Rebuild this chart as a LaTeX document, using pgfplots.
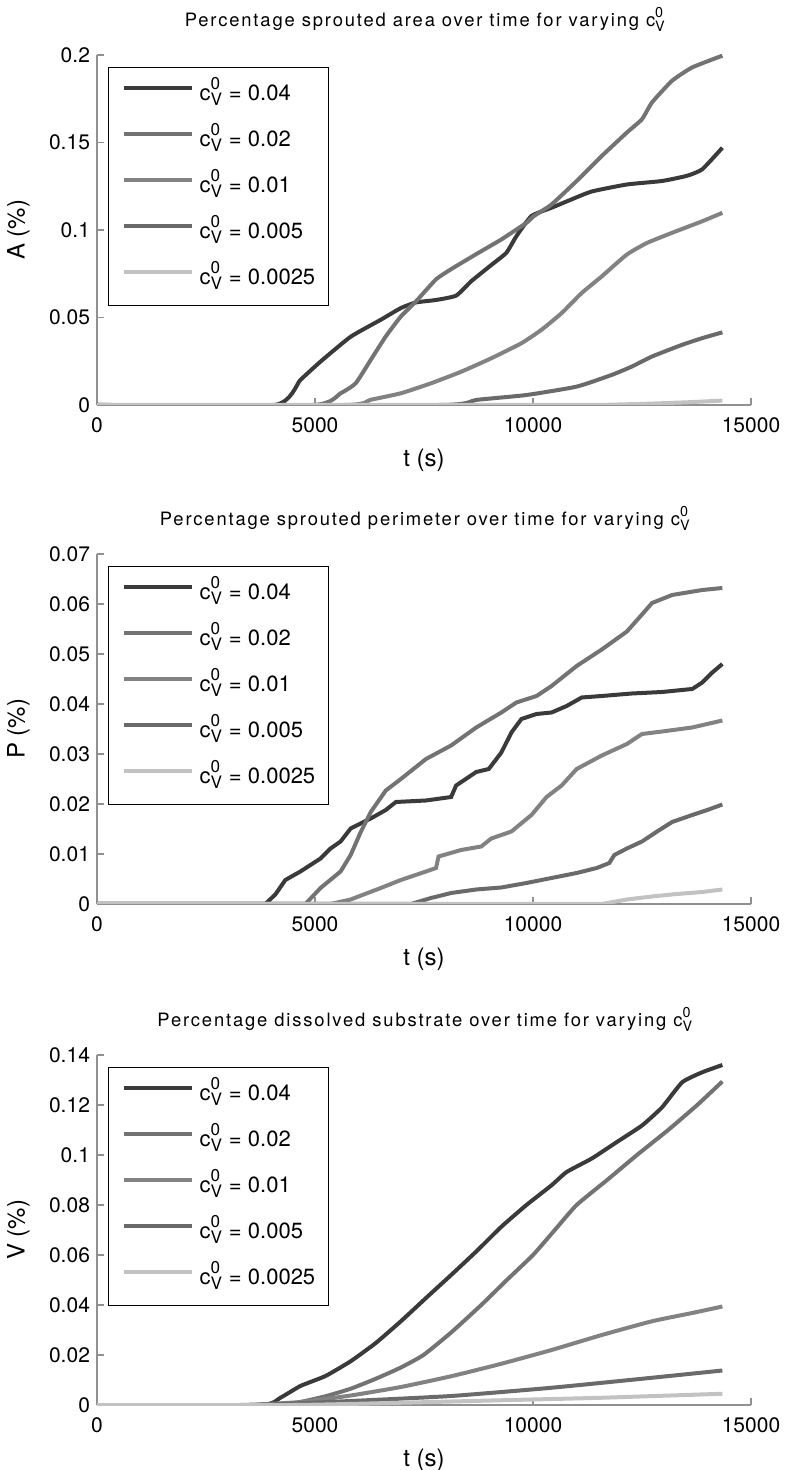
\documentclass[border=0pt]{standalone}
\usepackage{pgfplots}
\pgfplotsset{compat=1.18}
\usepackage{fontspec}
\setmainfont{TeX Gyre Heros}
\definecolor{cA}{HTML}{3A3A3A}
\definecolor{cB}{HTML}{737373}
\definecolor{cC}{HTML}{828282}
\definecolor{cD}{HTML}{6A6A6A}
\definecolor{cE}{HTML}{C2C2C2}
\definecolor{axc}{HTML}{909090}
\newcommand{\cv}{c\rlap{\raisebox{-0.45ex}{\scalebox{0.78}{V}}}\raisebox{0.95ex}{\scalebox{0.78}{0}}\hspace{0.12em}}
\newcommand{\ttl}[1]{{\addfontfeature{LetterSpace=10}#1}}
\pgfplotsset{
  myax/.style={
    width=327pt, height=175pt, scale only axis,
    xmin=0, xmax=15000, xtick={0,5000,10000,15000},
    ymin=0,
    axis x line*=bottom, axis y line*=left,
    x axis line style={-}, y axis line style={-},
    axis line style={color=axc, line width=0.7pt},
    tick style={color=axc, line width=0.7pt},
    tick align=inside, major tick length=3.5pt,
    scaled x ticks=false, scaled y ticks=false,
    /pgf/number format/assume math mode=true,
    ticklabel style={font=\fontsize{10.5}{12}\selectfont, text=black},
    xticklabel style={/pgf/number format/set thousands separator={}, yshift=-3pt},
    yticklabel style={/pgf/number format/fixed, /pgf/number format/precision=3},
    label style={font=\fontsize{12}{14}\selectfont},
    xlabel={t (s)},
    xlabel style={at={(axis description cs:0.5,-0.157)}, anchor=center},
    ylabel style={at={(axis description cs:-0.12,0.5)}, anchor=center},
    title style={at={(axis description cs:0.5,1.08)}, anchor=base, yshift=0pt, font=\fontsize{9.2}{11}\selectfont},
    every axis title shift=0pt,
    legend style={at={(0.0168,0.966)}, anchor=north west, draw=black, line width=0.7pt,
      font=\fontsize{11}{13}\selectfont, inner xsep=6.5pt, inner ysep=6.5pt, row sep=9pt,
      nodes={inner sep=0pt, text height=10pt, text depth=4pt},
      /tikz/every odd column/.append style={column sep=3pt}},
    legend cell align=left,
    legend image code/.code={\draw[#1] (0pt,3.5pt) -- (34pt,3.5pt);},
    every axis plot/.append style={line width=2pt},
  }
}
\begin{document}
\begin{tikzpicture}
\path[use as bounding box] (0,0) rectangle (393pt,735pt);
% ---------- Plot 1 ----------
\begin{axis}[myax, at={(48.5pt,532.5pt)}, anchor=south west,
  ymax=0.2, ytick={0,0.05,0.1,0.15,0.2},
  ylabel={A (\%)},
  title={\ttl{Percentage sprouted area over time for varying \cv}}]
\addplot[cA, smooth, tension=0.3] coordinates {(0,0)(4070,0)(4665,0.0143)(5127,0.0248)(5818,0.039)(6509,0.0487)(6970,0.0554)(7316,0.0586)(7776,0.060)(8238,0.0625)(8583,0.0707)(9044,0.080)(9390,0.087)(9620,0.0965)(9965,0.108)(10426,0.1127)(10887,0.1175)(11348,0.122)(12154,0.126)(12961,0.128)(13537,0.131)(13883,0.1347)(14343,0.147)};
\addplot[cB, smooth, tension=0.3] coordinates {(0,0)(4954,0)(5587,0.0067)(5933,0.0124)(6279,0.0258)(6624,0.0392)(6970,0.0506)(7316,0.0592)(7776,0.0718)(8122,0.0776)(8698,0.0862)(9274,0.0946)(9850,0.1041)(10023,0.108)(10426,0.1146)(11002,0.128)(11578,0.1423)(12154,0.1557)(12500,0.1633)(12730,0.1729)(13191,0.1853)(13652,0.1929)(14343,0.1996)};
\addplot[cC, smooth, tension=0.3] coordinates {(0,0)(5700,0)(6280,0.003)(6970,0.0067)(7661,0.0124)(8352,0.019)(9044,0.0267)(9735,0.0353)(10196,0.043)(10657,0.0525)(11118,0.064)(11578,0.0735)(12154,0.086)(12615,0.0926)(13191,0.0984)(13883,0.105)(14343,0.1098)};
\addplot[cD, smooth, tension=0.3] coordinates {(0,0)(7892,0)(8698,0.0029)(9850,0.0057)(11002,0.0105)(11808,0.0172)(12270,0.022)(12730,0.0277)(13422,0.0344)(13883,0.0382)(14343,0.0415)};
\addplot[cE] coordinates {(0,0)(11500,0)(12500,0.0006)(13500,0.0015)(14343,0.0025)};
\legend{\cv\ = 0.04, \cv\ = 0.02, \cv\ = 0.01, \cv\ = 0.005, \cv\ = 0.0025}
\end{axis}
% ---------- Plot 2 ----------
\begin{axis}[myax, at={(48.5pt,283pt)}, anchor=south west,
  ymax=0.07, ytick={0,0.01,0.02,0.03,0.04,0.05,0.06,0.07},
  ylabel={P (\%)},
  title={\ttl{Percentage sprouted perimeter over time for varying \cv}}]
\addplot[cA] coordinates {(0,0)(3860,0)(4090,0.0019)(4320,0.0048)(4665,0.0065)(5127,0.0091)(5357,0.0111)(5587,0.0125)(5818,0.0151)(6279,0.0171)(6624,0.0188)(6855,0.0204)(7546,0.0207)(8122,0.0214)(8237,0.0237)(8698,0.0264)(8986,0.027)(9274,0.0303)(9505,0.0343)(9735,0.037)(10081,0.038)(10426,0.0383)(10772,0.0396)(11118,0.0413)(11578,0.0416)(12270,0.0421)(12961,0.0424)(13652,0.043)(13883,0.0443)(14113,0.0463)(14343,0.048)};
\addplot[cB] coordinates {(0,0)(4780,0)(5127,0.0032)(5587,0.0065)(5818,0.0098)(6049,0.0144)(6279,0.0184)(6624,0.0227)(6970,0.025)(7546,0.029)(8122,0.0317)(8698,0.0353)(9274,0.0383)(9620,0.0403)(10081,0.0416)(10426,0.0436)(11002,0.0476)(11578,0.0509)(12154,0.0545)(12500,0.0579)(12730,0.0602)(13191,0.0618)(13883,0.0628)(14343,0.0632)};
\addplot[cC] coordinates {(0,0)(5357,0)(5818,0.0009)(6509,0.0032)(6970,0.0048)(7546,0.0065)(7776,0.0072)(7834,0.0095)(8352,0.0108)(8813,0.0115)(9044,0.0131)(9505,0.0145)(9965,0.0178)(10311,0.0214)(10657,0.0237)(11002,0.027)(11578,0.0297)(12154,0.032)(12500,0.034)(12961,0.0345)(13652,0.0353)(14343,0.0367)};
\addplot[cD] coordinates {(0,0)(7200,0)(7661,0.0012)(8122,0.0022)(8698,0.0029)(9274,0.0033)(9850,0.0042)(10426,0.0052)(11002,0.0062)(11463,0.0072)(11750,0.0082)(11866,0.0098)(12154,0.0111)(12500,0.0125)(12846,0.0145)(13191,0.0164)(13652,0.0178)(13998,0.0188)(14343,0.0199)};
\addplot[cE] coordinates {(0,0)(11578,0)(12154,0.0009)(12730,0.0015)(13306,0.002)(13883,0.0024)(14343,0.0029)};
\legend{\cv\ = 0.04, \cv\ = 0.02, \cv\ = 0.01, \cv\ = 0.005, \cv\ = 0.0025}
\end{axis}
% ---------- Plot 3 ----------
\begin{axis}[myax, at={(48.5pt,32.5pt)}, anchor=south west,
  ymax=0.14, ytick={0,0.02,0.04,0.06,0.08,0.1,0.12,0.14},
  ylabel={V (\%)},
  title={\ttl{Percentage dissolved substrate over time for varying \cv}}]
\addplot[cA, smooth, tension=0.3] coordinates {(0,0)(3744,0)(4205,0.0029)(4665,0.0076)(5241,0.0116)(5818,0.0175)(6394,0.0248)(6970,0.0335)(7546,0.0428)(8122,0.052)(8698,0.0614)(9274,0.0713)(9850,0.08)(10426,0.0879)(10772,0.0932)(11348,0.0986)(11924,0.1052)(12500,0.1118)(12961,0.1191)(13422,0.1291)(13883,0.1331)(14343,0.136)};
\addplot[cB, smooth, tension=0.3] coordinates {(0,0)(4205,0)(4665,0.0012)(5241,0.0035)(5818,0.0065)(6394,0.0105)(6970,0.015)(7488,0.02)(8122,0.029)(8813,0.04)(9400,0.05)(10000,0.06)(10500,0.07)(11000,0.08)(11700,0.09)(12385,0.1)(13100,0.11)(13767,0.12)(14343,0.1294)};
\addplot[cC, smooth, tension=0.3] coordinates {(0,0)(3283,0)(4665,0.0012)(5818,0.0038)(6970,0.0072)(8122,0.0115)(9274,0.0165)(10426,0.022)(11578,0.028)(12730,0.0335)(13652,0.0368)(14343,0.0394)};
\addplot[cD, smooth, tension=0.3] coordinates {(0,0)(3500,0)(5818,0.0016)(8122,0.0036)(10426,0.0069)(12730,0.0109)(14343,0.0138)};
\addplot[cE, smooth, tension=0.3] coordinates {(0,0)(4500,0)(6970,0.0009)(9274,0.0019)(11578,0.0029)(14343,0.0045)};
\legend{\cv\ = 0.04, \cv\ = 0.02, \cv\ = 0.01, \cv\ = 0.005, \cv\ = 0.0025}
\end{axis}
\end{tikzpicture}
\end{document}
